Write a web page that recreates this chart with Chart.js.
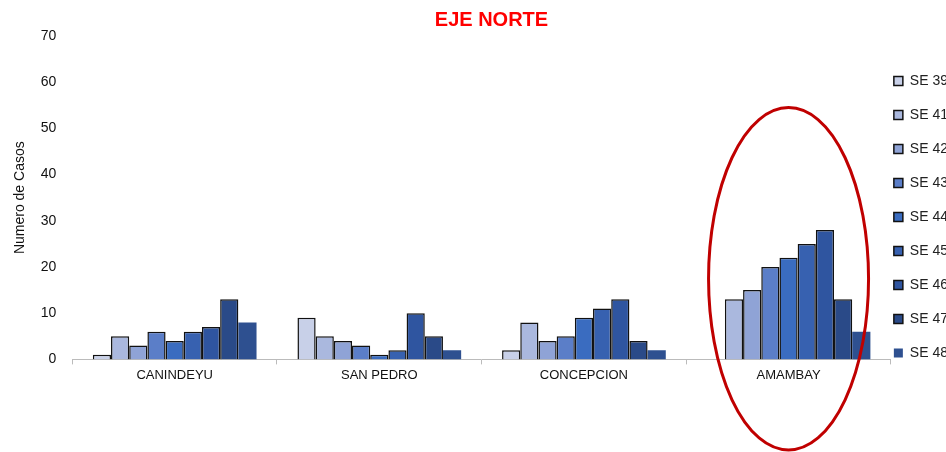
<!DOCTYPE html>
<html><head><meta charset="utf-8">
<script src="https://cdn.jsdelivr.net/npm/chart.js@4"></script>
<style>
html,body{margin:0;padding:0;background:#fff;overflow:hidden;width:946px;height:452px}
#wrap{width:975px;height:452px}
</style></head><body>
<div id="wrap"><canvas id="c"></canvas></div>
<script>
const categories = ['CANINDEYU', 'SAN PEDRO', 'CONCEPCION', 'AMAMBAY'];
const weeks = ['SE 39', 'SE 41', 'SE 42', 'SE 43', 'SE 44', 'SE 45', 'SE 46', 'SE 47', 'SE 48'];
const se39 = [1, 9, 2, 0];
const se41 = [5, 5, 8, 13];
const se42 = [3, 4, 4, 15];
const se43 = [6, 3, 5, 20];
const se44 = [4, 1, 9, 22];
const se45 = [6, 2, 11, 25];
const se46 = [7, 10, 13, 28];
const se47 = [13, 5, 4, 13];
const se48 = [8, 2, 2, 6];
const series = [se39, se41, se42, se43, se44, se45, se46, se47, se48];
const colors = ['#c8d0e8', '#aab8de', '#8fa3d6', '#5b7ec8', '#3a6cc0', '#3761b0', '#2f55a0', '#2a4a88', '#2e5090'];

// red ellipse highlight around AMAMBAY
const ellipsePlugin = {
    id: 'ellipse',
    beforeDraw(chart) {
        // nudge legend to sit level with the plot, close to its right edge
        const lg = chart.legend;
        if (lg && !lg._moved) {
            lg.top += 20; lg.bottom += 20;
            lg.left -= 17; lg.right -= 17;
            lg._moved = true;
        }
    },
    afterDatasetsDraw(chart) {
        const { ctx, scales: { x, y } } = chart;
        const cx = x.getPixelForValue(3);
        const top = y.getPixelForValue(54.5);
        const bottom = 450;
        ctx.save();
        ctx.strokeStyle = '#c00000';
        ctx.lineWidth = 3;
        ctx.beginPath();
        ctx.ellipse(cx, (top + bottom) / 2, 80, (bottom - top) / 2, 0, 0, Math.PI * 2);
        ctx.stroke();
        ctx.restore();
    }
};

new Chart(document.getElementById('c'), {
    type: 'bar',
    data: {
        labels: categories,
        datasets: weeks.map((w, i) => ({
            label: w,
            data: series[i],
            backgroundColor: colors[i],
            borderColor: i === 8 ? colors[i] : '#111',
            borderWidth: i === 8 ? 0 : 1.5,
            categoryPercentage: 0.8,
            barPercentage: 1
        }))
    },
    options: {
        responsive: true,
        maintainAspectRatio: false,
        animation: false,
        layout: { padding: { top: 8, left: 8, bottom: 66 } },
        plugins: {
            title: { display: true, text: 'EJE NORTE', color: '#ff0000', font: { family: 'Liberation Sans', size: 20, weight: 'bold' }, padding: { top: 0, bottom: 4 } },
            legend: {
                position: 'right',
                align: 'center',
                labels: { font: { family: 'Liberation Sans', size: 14 }, color: '#222', boxWidth: 9, boxHeight: 9, padding: 20 }
            },
            tooltip: { enabled: false }
        },
        scales: {
            x: {
                grid: { display: true, drawOnChartArea: false, offset: true, color: '#bbb', tickLength: 5 },
                border: { color: '#bbb' },
                ticks: { color: '#111', font: { family: 'Liberation Sans', size: 13 } }
            },
            y: {
                min: 0, max: 70,
                ticks: { stepSize: 10, color: '#111', font: { family: 'Liberation Sans', size: 14 }, padding: 8 },
                grid: { display: false },
                border: { display: false },
                title: { display: true, text: 'Numero de Casos', color: '#111', font: { family: 'Liberation Sans', size: 14 } }
            }
        }
    },
    plugins: [ellipsePlugin]
});
</script>
</body></html>
